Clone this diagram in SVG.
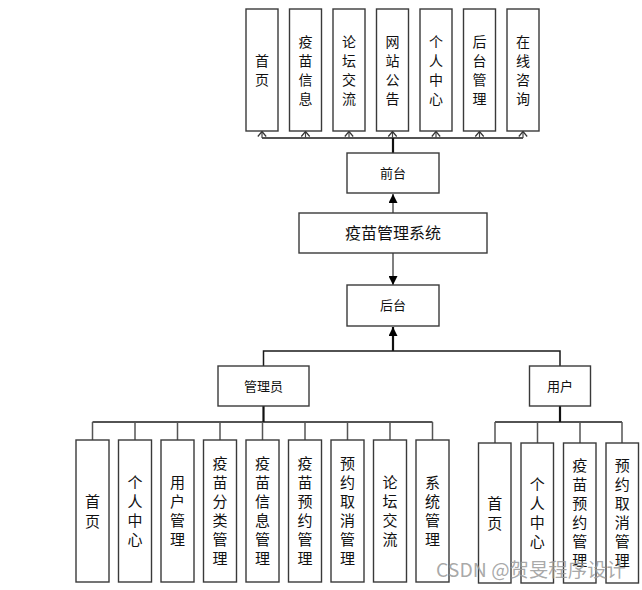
<svg xmlns="http://www.w3.org/2000/svg" width="642" height="590" viewBox="0 0 642 590">
<defs>
<style>
.box{fill:#fff;stroke:#3a3a3a;stroke-width:1.4}
.t{font-family:"Noto Sans CJK SC","Liberation Sans",sans-serif;fill:#111;text-anchor:middle}
.t14{font-size:14px}
.t15{font-size:15px}
.t13{font-size:13px}
.t16{font-size:16px}
.bus{stroke:#1a1a1a;stroke-width:1.5;fill:none}
.drop{stroke:#555;stroke-width:1.5;fill:none}
.trunk{stroke:#111;stroke-width:2.2;fill:none}
.wm{font-family:"Noto Sans CJK SC","Liberation Sans",sans-serif;font-size:19px;fill:#9a9a9a;fill-opacity:0.85}
</style>
<marker id="open" viewBox="0 0 6 10" refX="5.5" refY="5" markerWidth="6" markerHeight="10" markerUnits="userSpaceOnUse" orient="auto" overflow="visible">
<path d="M0.5,0.8 L5.5,5 L0.5,9.2" fill="none" stroke="#333" stroke-width="1.2"/>
</marker>
<marker id="fill" viewBox="0 0 10 10" refX="10" refY="5" markerWidth="10" markerHeight="9" markerUnits="userSpaceOnUse" orient="auto">
<path d="M0,0 L10,5 L0,10 Z" fill="#000"/>
</marker>
</defs>
<rect width="642" height="590" fill="#fff"/>

<g id="connectors">
<path class="bus" d="M262,138 H523"/>
<path class="trunk" d="M393,153 V138"/>
<g class="drop" marker-end="url(#open)" style="stroke:#444;stroke-width:1.2">
<path d="M262,138 V131.5"/>
<path d="M305.5,138 V131.5"/>
<path d="M349,138 V131.5"/>
<path d="M392.5,138 V131.5"/>
<path d="M436,138 V131.5"/>
<path d="M479.5,138 V131.5"/>
<path d="M523,138 V131.5"/>
</g>
<path class="drop" d="M393,213 V194" marker-end="url(#fill)"/>
<path class="drop" d="M393,253 V285" marker-end="url(#fill)"/>
<path class="trunk" d="M393,351 V327" marker-end="url(#fill)"/>
<path class="bus" d="M263.5,366 V351 H560 V366"/>
<path class="trunk" d="M263.5,406 V422"/>
<path class="bus" d="M92.5,422 H432.5"/>
<path class="drop" d="M92.5,422 V440 M135,422 V440 M177.5,422 V440 M220,422 V440 M262.5,422 V440 M305,422 V440 M347.5,422 V440 M390,422 V440 M432.5,422 V440"/>
<path class="trunk" d="M560,406 V422"/>
<path class="bus" d="M495,422 H622"/>
<path class="drop" d="M495,422 V443 M537.5,422 V443 M580,422 V443 M622,422 V443"/>
</g>

<g id="f1"><rect class="box" x="246" y="9" width="32" height="122"/><text class="t t14" x="262" y="65.5"><tspan x="262">首</tspan><tspan x="262" dy="19">页</tspan></text></g>
<g id="f2"><rect class="box" x="289.5" y="9" width="32" height="122"/><text class="t t14" x="305.5" y="46.5"><tspan x="305.5">疫</tspan><tspan x="305.5" dy="19">苗</tspan><tspan x="305.5" dy="19">信</tspan><tspan x="305.5" dy="19">息</tspan></text></g>
<g id="f3"><rect class="box" x="333" y="9" width="32" height="122"/><text class="t t14" x="349" y="46.5"><tspan x="349">论</tspan><tspan x="349" dy="19">坛</tspan><tspan x="349" dy="19">交</tspan><tspan x="349" dy="19">流</tspan></text></g>
<g id="f4"><rect class="box" x="376.5" y="9" width="32" height="122"/><text class="t t14" x="392.5" y="46.5"><tspan x="392.5">网</tspan><tspan x="392.5" dy="19">站</tspan><tspan x="392.5" dy="19">公</tspan><tspan x="392.5" dy="19">告</tspan></text></g>
<g id="f5"><rect class="box" x="420" y="9" width="32" height="122"/><text class="t t14" x="436" y="46.5"><tspan x="436">个</tspan><tspan x="436" dy="19">人</tspan><tspan x="436" dy="19">中</tspan><tspan x="436" dy="19">心</tspan></text></g>
<g id="f6"><rect class="box" x="463.5" y="9" width="32" height="122"/><text class="t t14" x="479.5" y="46.5"><tspan x="479.5">后</tspan><tspan x="479.5" dy="19">台</tspan><tspan x="479.5" dy="19">管</tspan><tspan x="479.5" dy="19">理</tspan></text></g>
<g id="f7"><rect class="box" x="507" y="9" width="32" height="122"/><text class="t t14" x="523" y="46.5"><tspan x="523">在</tspan><tspan x="523" dy="19">线</tspan><tspan x="523" dy="19">咨</tspan><tspan x="523" dy="19">询</tspan></text></g>

<g id="qiantai"><rect class="box" x="347" y="153" width="92" height="40"/><text class="t t13" x="393" y="177.5">前台</text></g>
<g id="system"><rect class="box" x="299" y="213" width="188" height="40"/><text class="t t16" x="393" y="239">疫苗管理系统</text></g>
<g id="houtai"><rect class="box" x="347" y="285" width="92" height="41"/><text class="t t13" x="393" y="310">后台</text></g>
<g id="admin"><rect class="box" x="218" y="366" width="91" height="40"/><text class="t t13" x="263.5" y="390.5">管理员</text></g>
<g id="user"><rect class="box" x="529.5" y="366" width="61" height="40"/><text class="t t13" x="560" y="390.5">用户</text></g>

<g id="a1"><rect class="box" x="76" y="440" width="33" height="142"/><text class="t t15" x="92.5" y="507"><tspan x="92.5">首</tspan><tspan x="92.5" dy="20">页</tspan></text></g>
<g id="a2"><rect class="box" x="118.5" y="440" width="33" height="142"/><text class="t t15" x="135" y="488"><tspan x="135">个</tspan><tspan x="135" dy="19">人</tspan><tspan x="135" dy="19">中</tspan><tspan x="135" dy="19">心</tspan></text></g>
<g id="a3"><rect class="box" x="161" y="440" width="33" height="142"/><text class="t t15" x="177.5" y="488"><tspan x="177.5">用</tspan><tspan x="177.5" dy="19">户</tspan><tspan x="177.5" dy="19">管</tspan><tspan x="177.5" dy="19">理</tspan></text></g>
<g id="a4"><rect class="box" x="203.5" y="440" width="33" height="142"/><text class="t t15" x="220" y="469"><tspan x="220">疫</tspan><tspan x="220" dy="19">苗</tspan><tspan x="220" dy="19">分</tspan><tspan x="220" dy="19">类</tspan><tspan x="220" dy="19">管</tspan><tspan x="220" dy="19">理</tspan></text></g>
<g id="a5"><rect class="box" x="246" y="440" width="33" height="142"/><text class="t t15" x="262.5" y="469"><tspan x="262.5">疫</tspan><tspan x="262.5" dy="19">苗</tspan><tspan x="262.5" dy="19">信</tspan><tspan x="262.5" dy="19">息</tspan><tspan x="262.5" dy="19">管</tspan><tspan x="262.5" dy="19">理</tspan></text></g>
<g id="a6"><rect class="box" x="288.5" y="440" width="33" height="142"/><text class="t t15" x="305" y="469"><tspan x="305">疫</tspan><tspan x="305" dy="19">苗</tspan><tspan x="305" dy="19">预</tspan><tspan x="305" dy="19">约</tspan><tspan x="305" dy="19">管</tspan><tspan x="305" dy="19">理</tspan></text></g>
<g id="a7"><rect class="box" x="331" y="440" width="33" height="142"/><text class="t t15" x="347.5" y="469"><tspan x="347.5">预</tspan><tspan x="347.5" dy="19">约</tspan><tspan x="347.5" dy="19">取</tspan><tspan x="347.5" dy="19">消</tspan><tspan x="347.5" dy="19">管</tspan><tspan x="347.5" dy="19">理</tspan></text></g>
<g id="a8"><rect class="box" x="373.5" y="440" width="33" height="142"/><text class="t t15" x="390" y="488"><tspan x="390">论</tspan><tspan x="390" dy="19">坛</tspan><tspan x="390" dy="19">交</tspan><tspan x="390" dy="19">流</tspan></text></g>
<g id="a9"><rect class="box" x="416" y="440" width="33" height="142"/><text class="t t15" x="432.5" y="488"><tspan x="432.5">系</tspan><tspan x="432.5" dy="19">统</tspan><tspan x="432.5" dy="19">管</tspan><tspan x="432.5" dy="19">理</tspan></text></g>

<g id="u1"><rect class="box" x="478.5" y="443" width="32.5" height="140"/><text class="t t15" x="494.7" y="509"><tspan x="494.7">首</tspan><tspan x="494.7" dy="20">页</tspan></text></g>
<g id="u2"><rect class="box" x="521" y="443" width="32.5" height="140"/><text class="t t15" x="537.2" y="490"><tspan x="537.2">个</tspan><tspan x="537.2" dy="19">人</tspan><tspan x="537.2" dy="19">中</tspan><tspan x="537.2" dy="19">心</tspan></text></g>
<g id="u3"><rect class="box" x="563.5" y="443" width="32.5" height="140"/><text class="t t15" x="579.7" y="471"><tspan x="579.7">疫</tspan><tspan x="579.7" dy="19">苗</tspan><tspan x="579.7" dy="19">预</tspan><tspan x="579.7" dy="19">约</tspan><tspan x="579.7" dy="19">管</tspan><tspan x="579.7" dy="19">理</tspan></text></g>
<g id="u4"><rect class="box" x="606" y="443" width="32.5" height="140"/><text class="t t15" x="622.2" y="471"><tspan x="622.2">预</tspan><tspan x="622.2" dy="19">约</tspan><tspan x="622.2" dy="19">取</tspan><tspan x="622.2" dy="19">消</tspan><tspan x="622.2" dy="19">管</tspan><tspan x="622.2" dy="19">理</tspan></text></g>

<text class="wm" x="436" y="577" textLength="190" lengthAdjust="spacingAndGlyphs">CSDN @贺旻程序设计</text>
</svg>
